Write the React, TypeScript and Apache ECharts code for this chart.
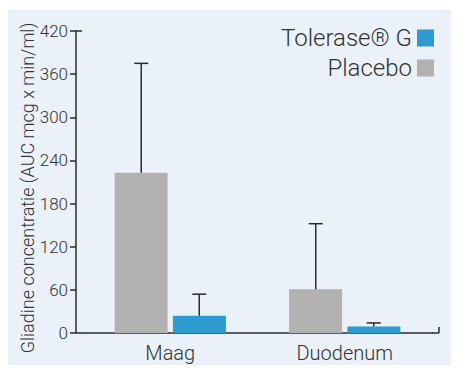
import React, { useEffect, useRef } from "react";
import * as echarts from "echarts";

const categories = ["Maag", "Duodenum"];
const placeboValues = [223, 61];
const placeboErrors = [152, 91];
const toleraseValues = [24, 9];
const toleraseErrors = [30, 5];
const yTicks = { min: 0, max: 420, interval: 60 };
const yTitle = "Gliadine concentratie (AUC mcg x min/ml)";
const legendNames = ["Tolerase® G", "Placebo"];

const FONT = "Roboto";
const TEXT = "#333333";
const AXIS = "#2b2b2b";
const BAR_W = 53;
const GAP_PX = 5;
const EXT = 7;

export default function App() {
  const ref = useRef<HTMLDivElement>(null);
  useEffect(() => {
    const chart = echarts.init(ref.current!, null, { renderer: "svg" });
    const off = (BAR_W + GAP_PX) / 2;
    const ln = (x1: number, y1: number, x2: number, y2: number) => ({
      type: "line", shape: { x1, y1, x2, y2 }, style: { stroke: AXIS, lineWidth: 1.5 },
    });
    const errItem = (sign: number, errs: number[], vals: number[]) => (params: any, api: any) => {
      const i = api.value(0);
      const base = api.coord([i, vals[i]]);
      const top = api.coord([i, vals[i] + errs[i]]);
      const x = base[0] + sign * off;
      return { type: "group", children: [ln(x, base[1], x, top[1]), ln(x - 7, top[1], x + 7, top[1])] };
    };
    chart.setOption({
      animation: false,
      backgroundColor: "#ffffff",
      graphic: [
        { type: "rect", z: -10, shape: { x: 8, y: 10, width: 443, height: 355 }, style: { fill: "#EAF1F8" } },
        {
          type: "text", x: 27, y: 188, rotation: Math.PI / 2,
          style: { text: yTitle, font: `300 18px ${FONT}`, fill: TEXT, align: "center", verticalAlign: "middle" },
        },
      ],
      legend: {
        orient: "vertical",
        right: 26,
        top: 21,
        align: "right",
        itemWidth: 17,
        itemHeight: 17,
        itemGap: 6,
        icon: "rect",
        data: legendNames,
        textStyle: { fontFamily: FONT, fontWeight: 300, fontSize: 24, color: TEXT },
      },
      grid: { left: 83, right: 33, top: 31, bottom: 43 },
      xAxis: {
        type: "category",
        data: categories,
        axisLine: { lineStyle: { color: AXIS, width: 1.5 } },
        axisTick: { show: false },
        axisLabel: { fontFamily: FONT, fontWeight: 300, fontSize: 20, color: TEXT, margin: 10 },
      },
      yAxis: {
        type: "value",
        offset: EXT,
        min: yTicks.min,
        max: yTicks.max,
        interval: yTicks.interval,
        splitLine: { show: false },
        axisLine: { show: true, lineStyle: { color: AXIS, width: 1.5 } },
        axisTick: { show: true, length: 6, lineStyle: { color: AXIS, width: 1.5 } },
        axisLabel: { fontFamily: FONT, fontWeight: 300, fontSize: 17, color: TEXT, margin: 8 },
      },
      series: [
        {
          name: "Placebo", type: "bar", data: placeboValues, barWidth: BAR_W, barGap: "10%",
          itemStyle: { color: "#B2B2B2" },
        },
        {
          name: "Tolerase® G", type: "bar", data: toleraseValues, barWidth: BAR_W, barGap: "10%",
          itemStyle: { color: "#2E9BD0" },
        },
        {
          type: "custom", renderItem: errItem(-1, placeboErrors, placeboValues),
          data: categories.map((_, i) => [i]), z: 5,
        },
        {
          type: "custom", renderItem: errItem(1, toleraseErrors, toleraseValues),
          data: categories.map((_, i) => [i]), z: 5,
        },
        {
          type: "custom", z: 5, data: [[0]],
          renderItem: (params: any) => {
            const cs = params.coordSys;
            const l = cs.x - EXT;
            const r = cs.x + cs.width + EXT;
            const b = cs.y + cs.height;
            return {
              type: "group",
              children: [
                ln(l, b, cs.x, b),
                ln(cs.x + cs.width, b, r, b),
                ln(l, cs.y, l + 6, cs.y),
                ln(r, b, r, b - 6),
              ],
            };
          },
        },
      ],
    });
    return () => chart.dispose();
  }, []);
  return <div ref={ref} style={{ position: "fixed", left: 0, top: 0, width: 465, height: 376 }} />;
}
